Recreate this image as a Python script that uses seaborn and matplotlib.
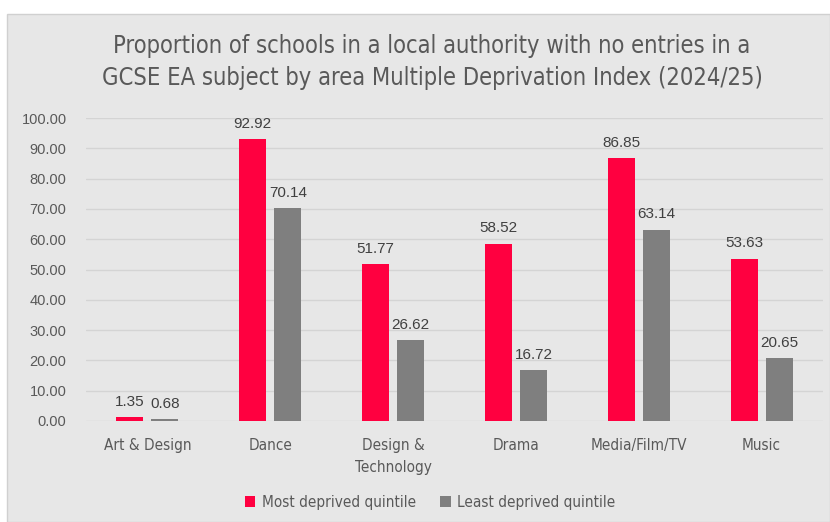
import matplotlib
matplotlib.use("Agg")
import matplotlib.pyplot as plt
from matplotlib.patches import Rectangle
import seaborn as sns
import pandas as pd

subjects = ["Art & Design", "Dance", "Design &\nTechnology", "Drama", "Media/Film/TV", "Music"]
most_deprived = [1.35, 92.92, 51.77, 58.52, 86.85, 53.63]
least_deprived = [0.68, 70.14, 26.62, 16.72, 63.14, 20.65]
series_names = ["Most deprived quintile", "Least deprived quintile"]
colors = ["#FF0040", "#7F7F7F"]
yticks = [0, 10, 20, 30, 40, 50, 60, 70, 80, 90, 100]

df = pd.DataFrame({
    "subject": subjects * 2,
    "value": most_deprived + least_deprived,
    "series": [series_names[0]] * len(subjects) + [series_names[1]] * len(subjects),
})

sns.set_theme(style="white")
narrow = ["DejaVu Sans"]
plt.rcParams["font.family"] = ["Liberation Sans", "DejaVu Sans"]

W, H = 830, 522
fig = plt.figure(figsize=(W / 100, H / 100), dpi=100, facecolor="white")
bg = "#E7E7E7"
fig.patches.append(Rectangle((7 / W, 0), 1 - 7 / W, 1 - 14 / H, transform=fig.transFigure,
                             facecolor=bg, edgecolor="#D0D0D0", linewidth=1, zorder=-10))

ax = fig.add_axes([86 / W, (H - 421) / H, (823 - 86) / W, (421 - 118) / H])
ax.set_zorder(5)
ax.patch.set_alpha(0)

sns.barplot(data=df, x="subject", y="value", hue="series", palette=colors,
            width=0.57, gap=0.23, saturation=1, linewidth=0, ax=ax, legend=True, zorder=3)

ax.set_ylim(0, 100)
ax.set_xlim(-0.5, len(subjects) - 0.5)
ax.set_yticks(yticks)
ax.set_yticklabels([f"{v:.2f}" for v in yticks], color="#595959", fontsize=10.5)
ax.yaxis.grid(True, color="#D4D4D4", linewidth=1, zorder=0)
ax.set_axisbelow(True)
for s in ax.spines.values():
    s.set_visible(False)
ax.tick_params(axis="both", length=0)
ax.tick_params(axis="y", pad=14)
ax.tick_params(axis="x", pad=12)
for lab in ax.get_xticklabels():
    lab.set_family(narrow)
    lab.set_stretch("condensed")
    lab.set_fontsize(11)
    lab.set_color("#595959")
    lab.set_linespacing(1.6)
ax.set_xlabel("")
ax.set_ylabel("")

for cont in ax.containers:
    for bar in cont:
        h = bar.get_height()
        ax.annotate(f"{h:.2f}", (bar.get_x() + bar.get_width() / 2, h),
                    xytext=(0, 6), textcoords="offset points", ha="center", va="bottom",
                    fontsize=11, color="#404040")

handles, labels = ax.get_legend_handles_labels()
ax.get_legend().remove()
leg = fig.legend(handles, labels, loc="center", bbox_to_anchor=(430 / W, (H - 502) / H),
                 ncol=2, frameon=False, handlelength=0.7, handleheight=0.7, handletextpad=0.4,
                 columnspacing=1.6, prop={"family": narrow, "size": 11, "stretch": "condensed"})
for t in leg.get_texts():
    t.set_color("#595959")

fig.text(432 / W, (H - 46) / H, "Proportion of schools in a local authority with no entries in a",
         ha="center", va="center", fontsize=17, color="#595959", family=narrow, stretch="condensed")
fig.text(432 / W, (H - 78) / H, "GCSE EA subject by area Multiple Deprivation Index (2024/25)",
         ha="center", va="center", fontsize=17, color="#595959", family=narrow, stretch="condensed")

fig.savefig("out.png", dpi=100, facecolor="white")
